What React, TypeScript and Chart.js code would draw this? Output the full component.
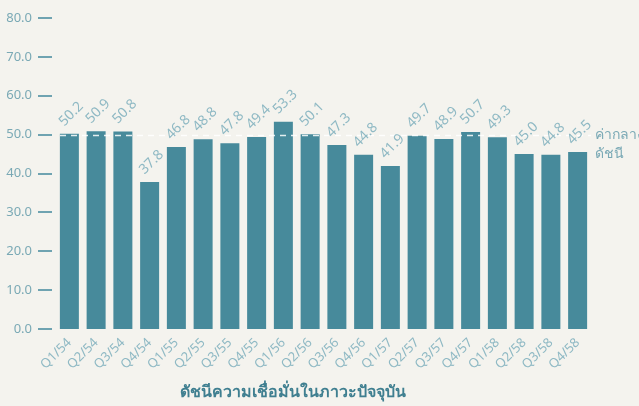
import React, { useEffect, useRef } from "react";
import { Chart, registerables } from "chart.js";

Chart.register(...registerables);

const categories = [
  "Q1/54", "Q2/54", "Q3/54", "Q4/54",
  "Q1/55", "Q2/55", "Q3/55", "Q4/55",
  "Q1/56", "Q2/56", "Q3/56", "Q4/56",
  "Q1/57", "Q2/57", "Q3/57", "Q4/57",
  "Q1/58", "Q2/58", "Q3/58", "Q4/58",
];
const values = [
  50.2, 50.9, 50.8, 37.8,
  46.8, 48.8, 47.8, 49.4,
  53.3, 50.1, 47.3, 44.8,
  41.9, 49.7, 48.9, 50.7,
  49.3, 45.0, 44.8, 45.5,
];
const midValue = 50;
const midLabel = ["ค่ากลาง", "ดัชนี"];
const axisTitle = "ดัชนีความเชื่อมั่นในภาวะปัจจุบัน";

const BG = "#f4f3ee";
const BAR = "#478a9b";
const LIGHT = "#8fb9c4";
const TICK = "#6fa3b1";
const FONT = "'Noto Sans', 'Open Sans', sans-serif";

const overlayPlugin = {
  id: "overlay",
  beforeDraw(chart: any) {
    const { ctx } = chart;
    ctx.save();
    ctx.fillStyle = BG;
    ctx.fillRect(0, 0, chart.width, chart.height);
    ctx.restore();
  },
  afterDatasetsDraw(chart: any) {
    const { ctx, chartArea, scales } = chart;
    const y = scales.y;
    ctx.save();
    // y tick marks
    ctx.strokeStyle = TICK;
    ctx.lineWidth = 2;
    y.ticks.forEach((t: any) => {
      const py = Math.round(y.getPixelForValue(t.value));
      ctx.beginPath();
      ctx.moveTo(38, py);
      ctx.lineTo(52, py);
      ctx.stroke();
    });
    // mid dashed line
    const my = Math.round(y.getPixelForValue(midValue)) + 0.5;
    ctx.strokeStyle = "rgba(255,255,255,0.85)";
    ctx.lineWidth = 1.5;
    ctx.setLineDash([6, 5]);
    ctx.beginPath();
    ctx.moveTo(chartArea.left + 4, my);
    ctx.lineTo(chartArea.right, my);
    ctx.stroke();
    ctx.setLineDash([]);
    // mid label
    ctx.fillStyle = "#7aa9b5";
    ctx.font = `14px ${FONT}`;
    ctx.textAlign = "left";
    ctx.textBaseline = "middle";
    ctx.fillText(midLabel[0], chartArea.right + 4, my);
    ctx.fillText(midLabel[1], chartArea.right + 4, my + 19);
    // value labels
    const meta = chart.getDatasetMeta(0);
    ctx.fillStyle = LIGHT;
    ctx.font = `14px ${FONT}`;
    meta.data.forEach((bar: any, i: number) => {
      ctx.save();
      ctx.translate(bar.x - 8, bar.y - 10);
      ctx.rotate(-Math.PI / 4);
      ctx.textAlign = "left";
      ctx.textBaseline = "middle";
      ctx.fillText(values[i].toFixed(1), 0, 0);
      ctx.restore();
    });
    // axis title
    ctx.fillStyle = "#3f7f90";
    ctx.font = `bold 16px ${FONT}`;
    ctx.textAlign = "center";
    ctx.textBaseline = "middle";
    ctx.fillText(axisTitle, 293, 392);
    ctx.restore();
  },
};

export default function App() {
  const ref = useRef<HTMLCanvasElement | null>(null);
  useEffect(() => {
    if (!ref.current) return;
    const chart = new Chart(ref.current, {
      type: "bar",
      data: {
        labels: categories,
        datasets: [
          {
            data: values,
            backgroundColor: BAR,
            borderWidth: 0,
            categoryPercentage: 1,
            barPercentage: 0.71,
          },
        ],
      },
      options: {
        animation: false,
        responsive: false,
        maintainAspectRatio: false,
        devicePixelRatio: 1,
        layout: { padding: { top: 18, right: 48, bottom: 2, left: 0 } },
        plugins: {
          legend: { display: false },
          tooltip: { enabled: false },
          title: { display: false },
        },
        scales: {
          x: {
            grid: { display: false, drawTicks: false },
            border: { display: false },
            afterFit: (s: any) => {
              s.height = 75;
              s.paddingLeft = 0;
              s.paddingRight = 0;
            },
            ticks: {
              color: LIGHT,
              font: { size: 13, family: FONT },
              maxRotation: 45,
              minRotation: 45,
              padding: 6,
              autoSkip: false,
            },
          },
          y: {
            min: 0,
            max: 80,
            grid: { display: false, drawTicks: false },
            border: { display: false },
            afterFit: (s: any) => {
              s.width = 56;
              s.paddingTop = 0;
              s.paddingBottom = 0;
            },
            ticks: {
              stepSize: 10,
              color: "#7aa9b5",
              font: { size: 13, family: FONT },
              padding: 24,
              callback: (v: any) => Number(v).toFixed(1),
            },
          },
        },
      },
      plugins: [overlayPlugin],
    });
    return () => chart.destroy();
  }, []);
  return (
    <div style={{ position: "fixed", left: 0, top: 0, width: 639, height: 406, background: BG }}>
      <canvas ref={ref} width={639} height={406} style={{ display: "block" }} />
    </div>
  );
}
